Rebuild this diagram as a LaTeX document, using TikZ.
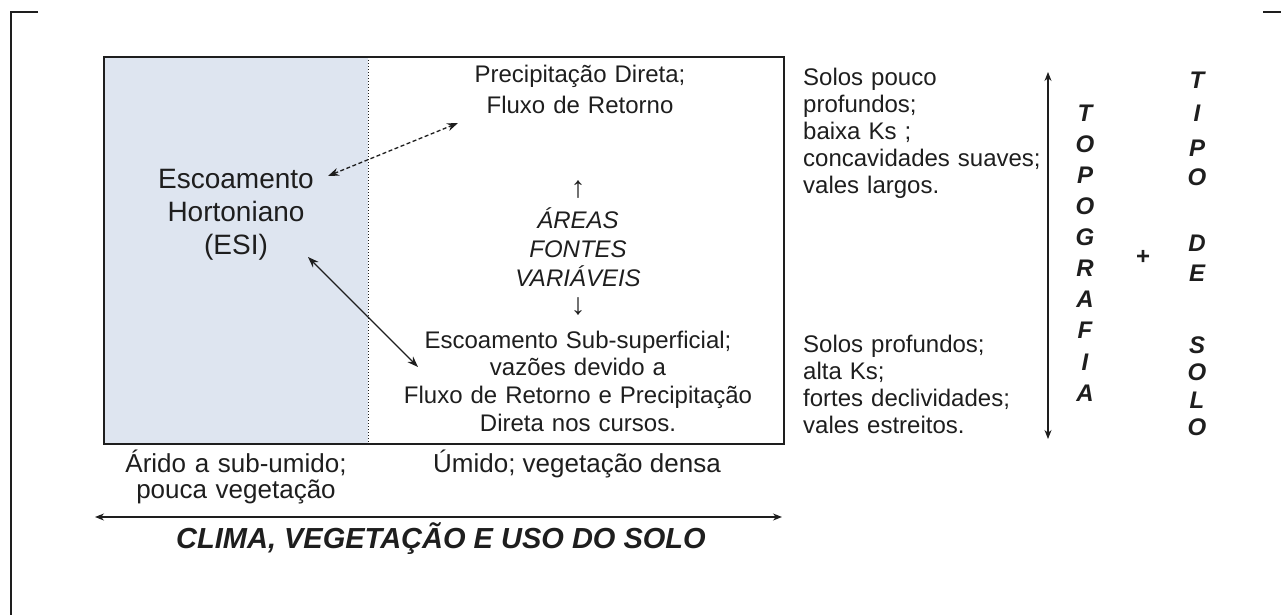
\documentclass[tikz,border=0pt]{standalone}
\usepackage{fontspec}
\setmainfont{Liberation Sans}
\usetikzlibrary{arrows.meta}
\definecolor{leftfill}{RGB}{222,229,240}
\definecolor{ink}{RGB}{30,30,30}
\begin{document}
\begin{tikzpicture}[x=1pt,y=-1pt,
  txt/.style={inner sep=0pt, text=ink, font=\fontsize{24}{28}\selectfont},
  blk/.style={inner sep=0pt, text=ink, align=center, text width=#1},
  let/.style={inner sep=0pt, text=ink, font=\bfseries\itshape\fontsize{24}{24}\selectfont},
  darr/.style={{Stealth[length=11pt,width=8pt]}-{Stealth[length=11pt,width=8pt]}, line width=1.3pt, draw=ink},
  thinarr/.style={{Stealth[length=9pt,width=7pt]}-{Stealth[length=9pt,width=7pt]}, line width=1.1pt, draw=ink}]
\useasboundingbox (0,0) rectangle (1281,615);
% frame
\draw[line width=2.5pt, ink] (38,12) -- (11,12) -- (11,615);
\draw[line width=2.5pt, ink] (1263,12) -- (1281,12);
% box
\fill[leftfill] (104,57) rectangle (368,444);
\draw[dotted, line width=1pt, ink] (368,57) -- (368,444);
\draw[line width=1.8pt, ink] (104,57) rectangle (784,444);
% texts in box
\node[blk=220pt, font=\fontsize{28}{33}\selectfont, anchor=base] (hort) at (236,188) {Escoamento\\Hortoniano\\(ESI)};
\node[blk=300pt, font=\fontsize{24}{31}\selectfont, anchor=base] (prec) at (580,83) {Precipitação Direta;\\Fluxo de Retorno};
\node[txt, font=\fontsize{30}{30}\selectfont] (up) at (578,190) {↑};
\node[blk=200pt, font=\itshape\fontsize{24}{29}\selectfont, anchor=base] (afv) at (578,228) {ÁREAS\\FONTES\\VARIÁVEIS};
\node[txt, font=\fontsize{30}{30}\selectfont] (down) at (578,307) {↓};
\node[blk=360pt, font=\fontsize{24}{27.7}\selectfont, anchor=base] (sub) at (578,348) {Escoamento Sub-superficial;\\vazões devido a\\Fluxo de Retorno e Precipitação\\Direta nos cursos.};
% arrows in box
\coordinate (d1) at (328,176);
\coordinate (d2) at (458,123);
\draw[darr, dash pattern=on 4pt off 2.5pt] (d1) -- (d2);
\coordinate (s1) at (308,257);
\coordinate (s2) at (418,367);
\draw[darr] (s1) -- (s2);
% right column
\node[blk=250pt, align=left, font=\fontsize{24}{27}\selectfont, anchor=base west] (raso) at (803,86) {Solos pouco\\profundos;\\baixa Ks ;\\concavidades suaves;\\vales largos.};
\node[blk=250pt, align=left, font=\fontsize{24}{27}\selectfont, anchor=base west] (prof) at (803,352) {Solos profundos;\\alta Ks;\\fortes declividades;\\vales estreitos.};
\coordinate (vt) at (1048,72);
\coordinate (vb) at (1048,439);
\draw[thinarr] (vt) -- (vb);
\foreach \l [count=\i] in {T,O,P,O,G,R,A,F,I,A}
  \node[let] (topo\i) at (1085,{113+31.1*(\i-1)}) {\l};
\foreach \l/\y [count=\i] in {T/80,I/113,P/148,O/177,D/243,E/273,S/345,O/372,L/400,O/427}
  \node[let] (tipo\i) at (1197,\y) {\l};
\node[inner sep=0pt, text=ink, font=\bfseries\fontsize{24}{24}\selectfont] (plus) at (1143,257) {+};
% bottom
\node[blk=300pt, font=\fontsize{26}{26}\selectfont, anchor=base] (arido) at (236,472) {Árido a sub-umido;\\pouca vegetação};
\node[txt, font=\fontsize{26}{26}\selectfont, anchor=base] (umido) at (577,472) {Úmido; vegetação densa};
\coordinate (hl) at (95,517);
\coordinate (hr) at (782,517);
\draw[thinarr, line width=1.3pt] (hl) -- (hr);
\node[txt, font=\bfseries\itshape\fontsize{29}{29}\selectfont, anchor=base] (clima) at (441,548) {CLIMA, VEGETAÇÃO E USO DO SOLO};
\end{tikzpicture}
\end{document}
